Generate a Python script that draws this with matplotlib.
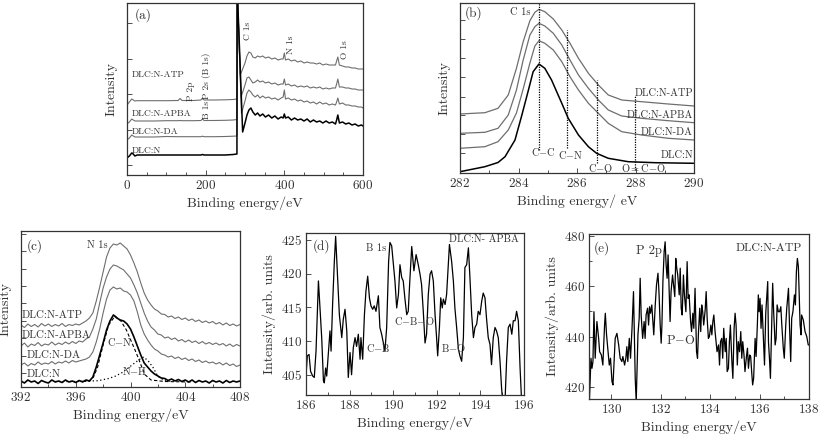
import numpy as np
import matplotlib
matplotlib.use("Agg")
import matplotlib.pyplot as plt
from matplotlib.ticker import MultipleLocator, NullFormatter

plt.rcParams['font.family'] = ['cmr10', 'DejaVu Serif']
plt.rcParams['mathtext.fontset'] = 'cm'
plt.rcParams['axes.formatter.use_mathtext'] = True
plt.rcParams['axes.unicode_minus'] = False

GRAY = '#6e6e6e'
TXT = '#333333'

# ---------------- panel (a): survey spectra (y in arbitrary units) ----------------
a_x_pre = [0, 6, 12, 16, 20, 26, 40, 70, 100, 130, 135, 140, 170, 188, 192, 196, 220, 250, 270, 279.5]
a_pre_N = [17, 19, 22, 21, 19, 20, 20, 20, 20, 20, 20, 20, 20, 20, 20.5, 20, 20, 20, 20.5, 21]
a_pre_DA = [35, 37, 40, 39, 38, 38, 38, 38, 38.5, 38.3, 38.3, 38.3, 38.3, 38.3, 38.8, 38.3, 38.3, 38.5, 38.8, 39]
a_pre_APBA = [51, 53, 56, 55, 54, 54, 54, 54, 54.3, 54.3, 54.5, 54.3, 54.3, 54.5, 56, 54.5, 54.5, 54.7, 55, 55.5]
a_pre_ATP = [70, 73, 76, 75, 74, 74.3, 74.3, 74.3, 74.3, 74.5, 76.5, 74.5, 74.5, 75, 77, 75, 75, 75.2, 75.5, 76]
a_x_edge = [280.0, 280.4]
a_edge_top = [185, 185]
a_valley_x = {'N': 294, 'DA': 291, 'APBA': 290, 'ATP': 288}
a_valley_y = {'N': 43, 'DA': 61.7, 'APBA': 78, 'ATP': 100}
a_x_post = [300, 305, 310, 315, 320, 326, 332, 338, 345, 352, 360, 368, 376, 384, 392, 397, 400, 403,
            410, 418, 426, 434, 442, 450, 458, 466, 474, 482, 490, 498, 506, 514, 522, 530, 533, 536,
            540, 548, 556, 564, 572, 580, 588, 596, 600]
a_post_N = [52, 60, 65, 67, 63, 60, 62, 59, 61, 58, 60, 57, 59, 56, 58, 57, 61, 57, 58, 55, 57, 55, 56,
            54, 56, 53, 55, 53, 54, 52, 54, 52, 53, 51, 55, 60, 52, 53, 51, 52, 50, 51, 49, 50, 49]
a_post_DA = [74, 82, 85, 83, 80, 78, 80, 77, 79, 77, 78, 76, 77, 75, 77, 78, 85, 76, 77, 75, 76, 74, 75,
             73, 74, 72, 73, 71, 73, 71, 72, 70, 71, 70, 73, 77, 71, 72, 70, 70, 69, 69, 68, 68, 67]
a_post_APBA = [90, 97, 98, 95, 92, 93, 95, 93, 94, 92, 93, 91, 92, 90, 91, 91, 96, 90, 91, 89, 90, 88, 89,
               88, 89, 87, 88, 87, 88, 86, 87, 86, 87, 87, 91, 96, 88, 88, 87, 87, 86, 86, 85, 85, 85]
a_post_ATP = [112, 119, 123, 122, 118, 117, 119, 118, 119, 117, 118, 116, 117, 115, 116, 116, 122, 115, 116,
              114, 115, 113, 114, 112, 113, 112, 112, 111, 112, 110, 111, 110, 110, 110, 114, 118, 110, 109,
              108, 108, 107, 107, 106, 106, 106]

# ---------------- panel (b): C 1s ----------------
b_x_N = [282.0, 282.85, 283.3, 283.54, 283.88, 284.1, 284.34, 284.5, 284.7, 284.9, 285.13, 285.48, 285.7,
         286.05, 286.39, 286.67, 287.07, 287.75, 288.67, 290.0]
b_y_N = [1.3, 6.3, 10.5, 16.3, 33, 56.3, 83, 101.3, 109, 104.7, 93, 69.7, 54.7, 38, 26.3, 19.7, 14.7, 11.3, 10.3, 9.7]
b_x = [282.0, 282.85, 283.3, 283.65, 283.93, 284.16, 284.39, 284.56, 284.7, 284.9, 285.19, 285.48, 285.76,
       286.05, 286.39, 286.73, 287.07, 287.53, 288.21, 289.12, 290.0]
b_y_DA = [24.7, 26.3, 31.3, 43, 60, 84, 110, 127, 132.3, 129.7, 123, 111.3, 96.3, 83, 69.7, 59.7, 49.7, 41.3, 38, 34.7, 33]
b_y_APBA = [39.7, 40.7, 44.7, 58, 83, 113, 138, 146.3, 149.7, 147, 139.7, 128, 113, 98, 84.7, 73, 63, 57, 54.7, 52.3, 50.3]
b_y_ATP = [59, 60.3, 64.7, 78, 104.7, 131.3, 152.3, 160.7, 163.7, 161.3, 154, 143, 129.7, 114.7, 99.7, 88, 78, 73, 71.3, 69, 67]
b_lines_x = [284.7, 285.67, 286.67, 287.98]
b_lines_top = [170, 143, 93, 78]
b_lines_bot = [23, 25, 10, 3]

# ---------------- panel (c): N 1s ----------------
c_x = np.arange(392.0, 408.001, 0.25)
c_N = [6, 4, 7, 5, 6, 3.5, 6.5, 5, 4, 7, 5, 6, 4.5, 7, 5, 6, 4.5, 6.5, 5, 7, 6, 10, 20, 32, 44, 57, 66, 72,
       69, 67, 66, 63, 58, 50, 41, 32, 24, 20, 16, 13, 11, 9, 8.5, 6.5, 8, 6, 7.5, 5.5, 7, 5, 7, 4.5, 6.5,
       5, 6, 4, 6.5, 5, 6, 4, 6.5, 4.5, 6, 5, 6]
c_DA = [22, 24, 21, 23.5, 22, 25, 22.5, 24, 23, 25.5, 23, 25, 24, 26, 24, 26.5, 25, 26, 27, 28, 30, 35, 45,
        58, 74, 88, 97, 100, 98, 99, 96, 95, 92, 86, 75, 62, 53, 47, 42, 38, 36, 33, 32, 30, 31, 28.5, 30,
        27.5, 29, 26.5, 28, 25.5, 27, 24.5, 26, 24, 25, 23, 24.5, 22, 24, 21.5, 23, 20.5, 22]
c_APBA = [41, 44, 40, 43, 41.5, 44.5, 41, 43, 42, 45, 42, 44, 42.5, 45, 43, 45.5, 43.5, 46, 45, 48, 50, 58,
          68, 84, 99, 110, 118, 122, 121, 119, 117, 113, 109, 102, 94, 84, 74, 66, 60, 57, 53, 52, 49, 50,
          47.5, 49, 46, 47.5, 45, 47, 44.5, 46, 43.5, 45.5, 43, 44.5, 42.5, 44, 42, 43.5, 41, 43, 40.5, 42.5, 41]
c_ATP = [62, 59.5, 63, 60.5, 62.5, 60, 63.5, 61, 63, 60.5, 62.5, 61, 63.5, 60.5, 62.5, 61.5, 63, 62, 64, 66,
         69, 74, 86, 100, 115, 130, 139, 143, 142, 144, 141, 138, 132, 124, 115, 104, 94, 87, 82, 78, 76,
         73, 72.5, 70, 71, 68.5, 70, 67.5, 69, 66.5, 68, 65.5, 67, 64.5, 66, 64, 65.5, 63, 64.5, 62, 64,
         61.5, 63, 61, 62.5]
c_CN_x = [396.5, 397.0, 397.3, 397.6, 398.0, 398.4, 398.87, 399.3, 399.7, 399.95, 400.3, 400.57, 400.85,
          401.06, 401.5, 402.5, 404.5]
c_CN_y = [5.5, 6, 10, 20, 42, 62, 71, 66, 57, 49, 38, 29, 19, 12.3, 7, 5.5, 5]
c_NH_x = [394.5, 396.0, 397.65, 398.4, 398.87, 399.4, 399.84, 400.3, 400.7, 400.96, 401.3, 401.67, 402.0, 402.5, 403.0]
c_NH_y = [5.5, 5.5, 6.3, 8.5, 10.7, 14.5, 19, 24, 28, 30, 26, 19, 10.7, 6.3, 5.5]

# ---------------- panel (d): B 1s, DLC:N-APBA ----------------
d_x = [186.00, 186.06, 186.14, 186.21, 186.31, 186.38, 186.46, 186.57, 186.64, 186.72, 186.80, 186.84,
       186.90, 186.95, 187.02, 187.10, 187.15, 187.22, 187.30, 187.36, 187.44, 187.53, 187.64, 187.71,
       187.79, 187.87, 187.94, 188.02, 188.09, 188.17, 188.25, 188.32, 188.40, 188.48, 188.52, 188.60,
       188.68, 188.75, 188.83, 188.91, 188.98, 189.06, 189.13, 189.21, 189.32, 189.39, 189.47, 189.55,
       189.62, 189.70, 189.79, 189.85, 189.93, 190.01, 190.08, 190.16, 190.24, 190.31, 190.39, 190.46,
       190.54, 190.62, 190.69, 190.77, 190.85, 190.95, 191.05, 191.15, 191.23, 191.30, 191.38, 191.46,
       191.53, 191.61, 191.69, 191.76, 191.84, 191.92, 191.99, 192.04, 192.12, 192.18, 192.25, 192.30,
       192.38, 192.45, 192.58, 192.68, 192.76, 192.83, 192.91, 192.99, 193.06, 193.14, 193.22, 193.29,
       193.37, 193.45, 193.52, 193.60, 193.68, 193.75, 193.83, 193.90, 193.98, 194.06, 194.13, 194.21,
       194.28, 194.36, 194.44, 194.51, 194.59, 194.67, 194.74, 194.82, 194.90, 194.97, 195.02, 195.13,
       195.20, 195.28, 195.36, 195.44, 195.51, 195.59, 195.66, 195.74, 195.82, 195.89, 196.0]
d_y = [404.8, 407.8, 408.0, 405.5, 404.8, 404.6, 408.5, 418.9, 414.9, 410.5, 404.1, 403.8, 406.0, 404.8,
       408.0, 411.5, 408.5, 415.4, 421.8, 425.5, 419.9, 413.9, 410.5, 413.2, 414.7, 411.5, 404.6, 408.3,
       405.0, 409.0, 410.5, 409.2, 411.0, 407.3, 410.5, 407.3, 413.9, 417.4, 419.6, 416.4, 415.2, 414.7,
       415.2, 414.4, 416.7, 412.0, 411.0, 409.7, 408.5, 412.0, 421.8, 424.6, 424.1, 421.3, 418.9, 414.9,
       416.9, 421.3, 419.4, 418.9, 416.2, 413.9, 414.4, 419.4, 424.0, 420.4, 422.8, 421.3, 419.9, 418.4,
       414.4, 409.7, 411.0, 416.9, 419.9, 420.4, 418.9, 413.9, 410.5, 407.8, 412.0, 416.4, 414.9, 416.2,
       415.4, 416.9, 424.3, 421.8, 418.9, 414.9, 412.0, 408.8, 407.8, 407.0, 410.5, 420.9, 421.3, 423.8,
       419.4, 413.9, 410.5, 412.0, 412.5, 414.4, 413.9, 415.9, 417.1, 416.4, 413.4, 410.5, 409.5, 406.5,
       410.5, 412.0, 411.5, 410.5, 407.0, 403.1, 401.1, 401.1, 407.0, 412.0, 412.5, 411.0, 413.0, 413.0,
       414.4, 413.0, 406.0, 401.1, 401.1]

# ---------------- panel (e): P 2p, DLC:N-ATP ----------------
e_x = [129.12, 129.18, 129.22, 129.26, 129.30, 129.35, 129.42, 129.49, 129.53, 129.60, 129.66, 129.73,
       129.76, 129.81, 129.87, 129.92, 129.97, 130.03, 130.07, 130.16, 130.23, 130.30, 130.36, 130.43,
       130.47, 130.54, 130.59, 130.63, 130.67, 130.73, 130.78, 130.84, 130.90, 130.94, 130.97, 131.01,
       131.08, 131.13, 131.17, 131.21, 131.27, 131.33, 131.37, 131.41, 131.47, 131.51, 131.55, 131.59,
       131.64, 131.68, 131.72, 131.78, 131.83, 131.89, 131.93, 131.98, 132.02, 132.05, 132.09, 132.14,
       132.18, 132.22, 132.26, 132.30, 132.34, 132.38, 132.42, 132.48, 132.52, 132.57, 132.61, 132.65,
       132.69, 132.75, 132.79, 132.83, 132.87, 132.92, 132.96, 133.02, 133.07, 133.11, 133.15, 133.21,
       133.25, 133.30, 133.34, 133.39, 133.45, 133.49, 133.53, 133.58, 133.62, 133.66, 133.70, 133.74,
       133.80, 133.84, 133.88, 133.93, 133.97, 134.03, 134.07, 134.11, 134.15, 134.20, 134.24, 134.28,
       134.34, 134.38, 134.42, 134.47, 134.51, 134.55, 134.61, 134.65, 134.69, 134.74, 134.78, 134.82,
       134.88, 134.92, 134.97, 135.01, 135.05, 135.10, 135.14, 135.19, 135.24, 135.28, 135.32, 135.37,
       135.41, 135.47, 135.51, 135.55, 135.60, 135.64, 135.68, 135.72, 135.76, 135.82, 135.86, 135.91,
       135.95, 135.98, 136.02, 136.06, 136.10, 136.14, 136.20, 136.25, 136.29, 136.33, 136.36, 136.40,
       136.44, 136.49, 136.53, 136.57, 136.63, 136.67, 136.71, 136.76, 136.81, 136.86, 136.90, 136.96,
       137.00, 137.06, 137.10, 137.17, 137.21, 137.26, 137.30, 137.35, 137.41, 137.45, 137.49, 137.53,
       137.57, 137.64, 137.68, 137.70, 137.77, 137.84, 137.91, 137.97, 138.01]
e_y = [415.5, 431.4, 427.4, 430.1, 449.9, 431.4, 446.0, 439.3, 434.0, 432.7, 428.7, 444.6, 449.3, 440.7,
       434.0, 428.7, 431.4, 422.1, 420.8, 439.3, 441.3, 436.7, 431.4, 430.1, 432.1, 428.7, 431.4, 436.0,
       430.1, 439.3, 431.4, 443.3, 457.9, 438.0, 423.4, 414.0, 440.7, 447.3, 463.2, 448.6, 439.3, 446.0,
       439.3, 448.6, 451.3, 444.6, 451.9, 449.3, 452.6, 446.6, 440.7, 452.6, 460.5, 465.2, 457.9, 444.6,
       437.4, 444.6, 461.9, 473.8, 477.7, 468.5, 463.2, 472.5, 459.2, 446.0, 457.9, 464.5, 460.5, 455.9,
       471.1, 467.2, 464.5, 456.6, 467.2, 451.3, 448.6, 464.5, 456.6, 449.9, 469.8, 455.2, 456.6, 446.0,
       442.0, 449.3, 443.3, 459.2, 434.0, 431.4, 442.0, 451.3, 442.0, 452.6, 449.9, 444.6, 450.6, 457.9,
       447.3, 439.3, 440.0, 444.6, 440.7, 446.0, 448.6, 442.0, 438.0, 434.0, 436.7, 428.7, 438.0, 439.3,
       431.4, 443.3, 434.0, 439.3, 426.1, 427.4, 438.0, 444.6, 430.1, 423.4, 443.3, 449.3, 444.6, 428.7,
       438.0, 434.0, 442.0, 431.4, 438.0, 432.7, 426.1, 432.1, 435.4, 427.4, 432.7, 432.1, 426.1, 420.8,
       423.4, 439.3, 432.1, 444.6, 456.6, 449.9, 455.2, 443.3, 452.6, 443.3, 428.7, 449.3, 455.9, 461.9,
       438.0, 431.4, 423.4, 444.6, 461.2, 449.9, 436.7, 439.3, 452.6, 449.9, 449.9, 451.9, 444.6, 435.4,
       431.4, 444.6, 451.3, 459.2, 444.6, 430.1, 447.3, 449.9, 456.6, 452.6, 465.8, 471.1, 467.8, 444.6,
       440.7, 448.6, 446.6, 442.0, 440.0, 436.7, 436.7]


def style_axes(ax):
    for s in ax.spines.values():
        s.set_linewidth(0.9)
        s.set_color('#333333')
    ax.tick_params(which='both', direction='in', colors='#333333', labelcolor=TXT,
                   labelsize=9.5, width=0.6, pad=3, top=False, right=False)
    ax.tick_params(which='major', length=3.5)
    ax.tick_params(which='minor', length=2)


fig = plt.figure(figsize=(8.2, 4.34), dpi=100)
fig.patch.set_facecolor('white')

# ---------------- (a) ----------------
ax = fig.add_axes([127/820, 1-175/434, 236/820, 172/434])
style_axes(ax)
curves_a = [('ATP', a_pre_ATP, a_post_ATP, GRAY, 0.8),
            ('APBA', a_pre_APBA, a_post_APBA, GRAY, 0.8),
            ('DA', a_pre_DA, a_post_DA, GRAY, 0.8),
            ('N', a_pre_N, a_post_N, 'black', 1.1)]
for key, pre, post, col, lw in curves_a:
    xs = a_x_pre + a_x_edge + [a_valley_x[key]] + a_x_post
    ys = pre + a_edge_top + [a_valley_y[key]] + post
    ax.plot(xs, ys, color=col, lw=lw, clip_on=True)
ax.set_xlim(0, 600)
ax.set_ylim(0, 172)
ax.xaxis.set_major_locator(MultipleLocator(200))
ax.xaxis.set_minor_locator(MultipleLocator(50))
ax.set_yticks([10, 45.4, 80.8, 116.2, 151.6])
ax.yaxis.set_major_formatter(NullFormatter())
ax.set_xlabel('Binding energy/eV', fontsize=10, color=TXT, labelpad=3)
ax.set_ylabel('Intensity', fontsize=10, color=TXT, labelpad=4)
ax.text(20, 160, '(a)', fontsize=9.5, color=TXT, va='center')
for lbl, yv in [('DLC:N-ATP', 100), ('DLC:N-APBA', 61), ('DLC:N-DA', 43), ('DLC:N', 24)]:
    ax.text(12.7, yv, lbl, fontsize=6.8, color=TXT, va='center', ha='left')
for lbl, xv, yv in [('P 2p', 161.5, 83.5), ('B 1s', 203, 65.5), ('P 2s (B 1s)', 203, 99.5),
                    ('C 1s', 307.6, 144), ('N 1s', 416.5, 130), ('O 1s', 554, 125)]:
    ax.text(xv, yv, lbl, fontsize=6.8, color=TXT, rotation=90, ha='center', va='center')

# ---------------- (b) ----------------
ax = fig.add_axes([460/820, 1-173/434, 234/820, 170/434])
style_axes(ax)
ax.plot(b_x, b_y_ATP, color=GRAY, lw=0.9)
ax.plot(b_x, b_y_APBA, color=GRAY, lw=0.9)
ax.plot(b_x, b_y_DA, color=GRAY, lw=0.9)
ax.plot(b_x_N, b_y_N, color='black', lw=1.1)
ax.vlines(b_lines_x, b_lines_bot, b_lines_top, colors='black', linestyles=(0, (1, 1)), lw=0.9)
ax.set_xlim(282, 290)
ax.set_ylim(0, 170)
ax.xaxis.set_major_locator(MultipleLocator(2))
ax.xaxis.set_minor_locator(MultipleLocator(1))
ax.set_yticks([19.7, 38.7, 58, 76.3, 95.7, 114.7, 133.7, 153])
ax.yaxis.set_major_formatter(NullFormatter())
ax.set_xlabel('Binding energy/ eV', fontsize=10, color=TXT, labelpad=3)
ax.set_ylabel('Intensity', fontsize=10, color=TXT, labelpad=4)
ax.text(282.17, 160, '(b)', fontsize=9.5, color=TXT, va='center')
ax.text(284.07, 161, 'C 1s', fontsize=7.5, color=TXT, va='center', ha='center')
ax.text(284.85, 21, 'C$-$C', fontsize=7.5, color=TXT, va='center', ha='center')
ax.text(285.78, 18, 'C$-$N', fontsize=7.5, color=TXT, va='center', ha='center')
ax.text(286.79, 5, 'C$-$O', fontsize=7.5, color=TXT, va='center', ha='center')
ax.text(288.27, 5, 'O$=$C$-$O', fontsize=7.5, color=TXT, va='center', ha='center')
for lbl, yv in [('DLC:N-ATP', 80), ('DLC:N-APBA', 58), ('DLC:N-DA', 41), ('DLC:N', 18)]:
    ax.text(289.97, yv, lbl, fontsize=7.5, color=TXT, va='center', ha='right')

# ---------------- (c) ----------------
ax = fig.add_axes([21/820, 1-387/434, 219/820, 156/434])
style_axes(ax)
ax.plot(c_x, c_ATP, color=GRAY, lw=0.8)
ax.plot(c_x, c_APBA, color=GRAY, lw=0.8)
ax.plot(c_x, c_DA, color=GRAY, lw=0.8)
ax.plot(c_x, c_N, color='black', lw=1.2)
ax.plot(c_CN_x, c_CN_y, color='black', lw=0.8, ls=(0, (3, 2)))
ax.plot(c_NH_x, c_NH_y, color='black', lw=0.9, ls=(0, (1, 2)))
ax.set_xlim(392, 408)
ax.set_ylim(0, 156)
ax.xaxis.set_major_locator(MultipleLocator(4))
ax.xaxis.set_minor_locator(MultipleLocator(2))
ax.set_yticks(np.arange(14, 156, 17.4))
ax.yaxis.set_major_formatter(NullFormatter())
ax.set_xlabel('Binding energy/eV', fontsize=10, color=TXT, labelpad=3)
ax.set_ylabel('Intensity', fontsize=10, color=TXT, labelpad=4)
ax.text(392.44, 141, '(c)', fontsize=9.5, color=TXT, va='center')
ax.text(396.82, 142, 'N 1s', fontsize=7.5, color=TXT, va='center')
for lbl, xv, yv in [('DLC:N-ATP', 392.07, 72), ('DLC:N-APBA', 392.07, 52), ('DLC:N-DA', 392.44, 32),
                    ('DLC:N', 392.44, 13)]:
    ax.text(xv, yv, lbl, fontsize=7.8, color=TXT, va='center', ha='left')
ax.text(398.28, 45, 'C$-$N', fontsize=7.5, color=TXT, va='center')
ax.text(399.38, 16, 'N$-$H', fontsize=7.5, color=TXT, va='center')

# ---------------- (d) ----------------
ax = fig.add_axes([306/820, 1-395/434, 218/820, 162/434])
style_axes(ax)
ax.plot(d_x, d_y, color='black', lw=0.9)
ax.set_xlim(186, 196)
ax.set_ylim(402, 426)
ax.xaxis.set_major_locator(MultipleLocator(2))
ax.xaxis.set_minor_locator(MultipleLocator(1))
ax.yaxis.set_major_locator(MultipleLocator(5))
ax.set_xlabel('Binding energy/eV', fontsize=10, color=TXT, labelpad=3)
ax.set_ylabel('Intensity/arb. units', fontsize=10, color=TXT, labelpad=3)
ax.text(186.32, 424, '(d)', fontsize=9.5, color=TXT, va='center')
ax.text(188.75, 423.8, 'B 1s', fontsize=7.5, color=TXT, va='center')
ax.text(195.77, 425, 'DLC:N- APBA', fontsize=7.5, color=TXT, va='center', ha='right')
ax.text(190.04, 412.9, 'C$-$B$-$O', fontsize=7.5, color=TXT, va='center')
ax.text(188.75, 408.9, 'C$-$B', fontsize=7.5, color=TXT, va='center')
ax.text(192.19, 408.9, 'B$-$O', fontsize=7.5, color=TXT, va='center')

# ---------------- (e) ----------------
ax = fig.add_axes([589/820, 1-399/434, 220/820, 165/434])
style_axes(ax)
ax.plot(e_x, e_y, color='black', lw=0.9)
ax.set_xlim(129.1, 138)
ax.set_ylim(415.2, 480.8)
ax.xaxis.set_major_locator(MultipleLocator(2))
ax.xaxis.set_minor_locator(MultipleLocator(1))
ax.yaxis.set_major_locator(MultipleLocator(20))
ax.yaxis.set_minor_locator(MultipleLocator(10))
ax.set_xlabel('Binding energy/eV', fontsize=10, color=TXT, labelpad=3)
ax.set_ylabel('Intensity/arb. units', fontsize=10, color=TXT, labelpad=3)
ax.text(129.31, 475.2, '(e)', fontsize=9.5, color=TXT, va='center')
ax.text(131.01, 474, 'P 2p', fontsize=9, color=TXT, va='center')
ax.text(137.72, 475.2, 'DLC:N-ATP', fontsize=8.5, color=TXT, va='center', ha='right')
ax.text(132.22, 438.3, 'P$-$O', fontsize=9, color=TXT, va='center')

fig.savefig('out.png', dpi=100, facecolor='white')
